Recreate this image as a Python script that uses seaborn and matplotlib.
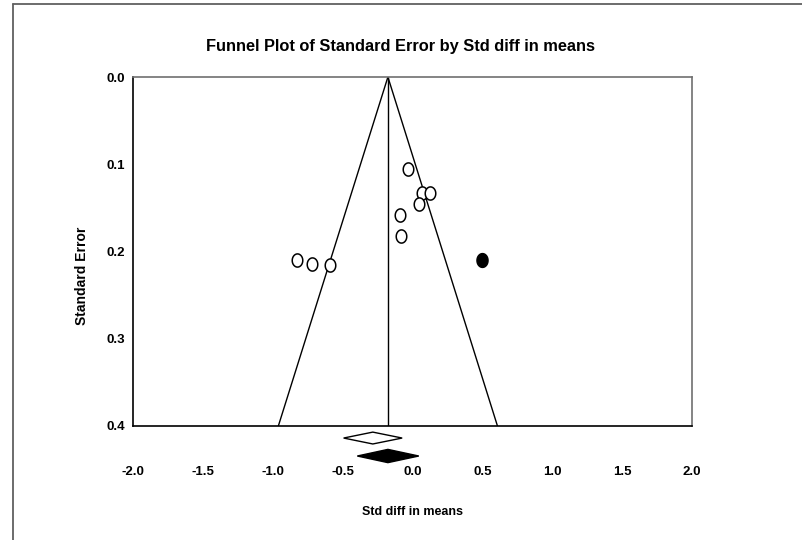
import numpy as np
import pandas as pd
import matplotlib
matplotlib.use("Agg")
import matplotlib.pyplot as plt
import seaborn as sns
from matplotlib.path import Path
from matplotlib.lines import Line2D

# ---- data ----
obs_effect = [-0.029, 0.067, 0.124, 0.045, -0.090, -0.079, -0.826, -0.716, -0.593]
obs_se = [0.105, 0.1325, 0.1325, 0.1455, 0.158, 0.1825, 0.210, 0.2145, 0.2157]
imp_effect = [0.498]
imp_se = [0.210]

mean_effect = -0.176          # vertical line / funnel centre
se_max = 0.4
z = 1.96

# summary diamonds: (lower, point, upper)
obs_summary = [-0.493, -0.284, -0.074]
adj_summary = [-0.395, -0.176, 0.045]

x_ticks = [-2.0, -1.5, -1.0, -0.5, 0.0, 0.5, 1.0, 1.5, 2.0]
y_ticks = [0.0, 0.1, 0.2, 0.3, 0.4]

title = "Funnel Plot of Standard Error by Std diff in means"
xlabel = "Std diff in means"
ylabel = "Standard Error"

# ---- style ----
sns.set_style("white")
FONT = ["Liberation Sans Narrow", "Liberation Sans", "DejaVu Sans"]
plt.rcParams["font.family"] = FONT
plt.rcParams["text.color"] = "black"
plt.rcParams["xtick.color"] = "black"
plt.rcParams["ytick.color"] = "black"

fig = plt.figure(figsize=(8.02, 5.40), dpi=100)
ax = fig.add_axes([133 / 802, 1 - 426 / 540, (692 - 133) / 802, (426 - 77) / 540])

# elliptical marker (slightly taller than wide)
t = np.linspace(0, 2 * np.pi, 60)
ell = Path(np.column_stack([0.80 * np.cos(t), np.sin(t)]), closed=True)

df = pd.DataFrame({
    "effect": obs_effect + imp_effect,
    "se": obs_se + imp_se,
    "kind": ["Observed"] * len(obs_effect) + ["Imputed"] * len(imp_effect),
})

# funnel lines
funnel = pd.DataFrame({
    "x": [mean_effect - z * se_max, mean_effect, mean_effect + z * se_max],
    "y": [se_max, 0.0, se_max],
})
sns.lineplot(data=funnel, x="x", y="y", sort=False, color="black", lw=1.0, ax=ax,
             estimator=None)
ax.plot([mean_effect, mean_effect], [0.0, se_max], color="black", lw=1.0)

sns.scatterplot(data=df[df.kind == "Observed"], x="effect", y="se", marker=ell, s=90,
                facecolor="white", edgecolor="black", linewidth=1.1, ax=ax, zorder=3)
sns.scatterplot(data=df[df.kind == "Imputed"], x="effect", y="se", marker=ell, s=100,
                color="black", edgecolor="black", linewidth=1.0, ax=ax, zorder=3)

ax.set_xlim(-2.0, 2.0)
ax.set_ylim(0.4, 0.0)

# summary diamonds (below the axis, in data coordinates)
def diamond(vals, yc, hh, face):
    lo, mid, hi = vals
    xs = [lo, mid, hi, mid, lo]
    ys = [yc, yc - hh, yc, yc + hh, yc]
    ax.fill(xs, ys, facecolor=face, edgecolor="black", lw=1.0, clip_on=False, zorder=4)

diamond(obs_summary, 0.4138, 0.0068, "white")
diamond(adj_summary, 0.4344, 0.0076, "black")

ax.set_xticks(x_ticks)
ax.set_xticklabels([f"{v:.1f}" for v in x_ticks], fontweight="bold", fontsize=9.5)
ax.set_yticks(y_ticks)
ax.set_yticklabels([f"{v:.1f}" for v in y_ticks], fontweight="bold", fontsize=9.5)
ax.tick_params(axis="x", direction="inout", length=5, width=1, pad=26, colors="black")
ax.tick_params(axis="y", direction="out", length=3, width=1, pad=3, colors="black")
ax.set_xlabel("")
ax.set_ylabel("")

for side in ["left", "bottom"]:
    ax.spines[side].set_color("black")
    ax.spines[side].set_linewidth(1.2)
for side in ["top", "right"]:
    ax.spines[side].set_color("#707070")
    ax.spines[side].set_linewidth(1.2)

fig.text(400 / 802, 1 - 47 / 540, title, ha="center", va="center",
         fontsize=11.8, fontweight="bold", color="black")
fig.text(412 / 802, 1 - 512 / 540, xlabel, ha="center", va="center",
         fontsize=9, fontweight="bold", color="black")
fig.text(82 / 802, 1 - 276 / 540, ylabel, ha="center", va="center", rotation=90,
         fontsize=10, fontweight="bold", color="black")

# partial figure frame (left and top edges)
fig.add_artist(Line2D([13 / 802, 13 / 802], [0, 1 - 4 / 540], transform=fig.transFigure,
                      color="#606060", lw=1.3))
fig.add_artist(Line2D([13 / 802, 1], [1 - 4 / 540, 1 - 4 / 540], transform=fig.transFigure,
                      color="#606060", lw=1.3))

fig.savefig("out.png", dpi=100)
